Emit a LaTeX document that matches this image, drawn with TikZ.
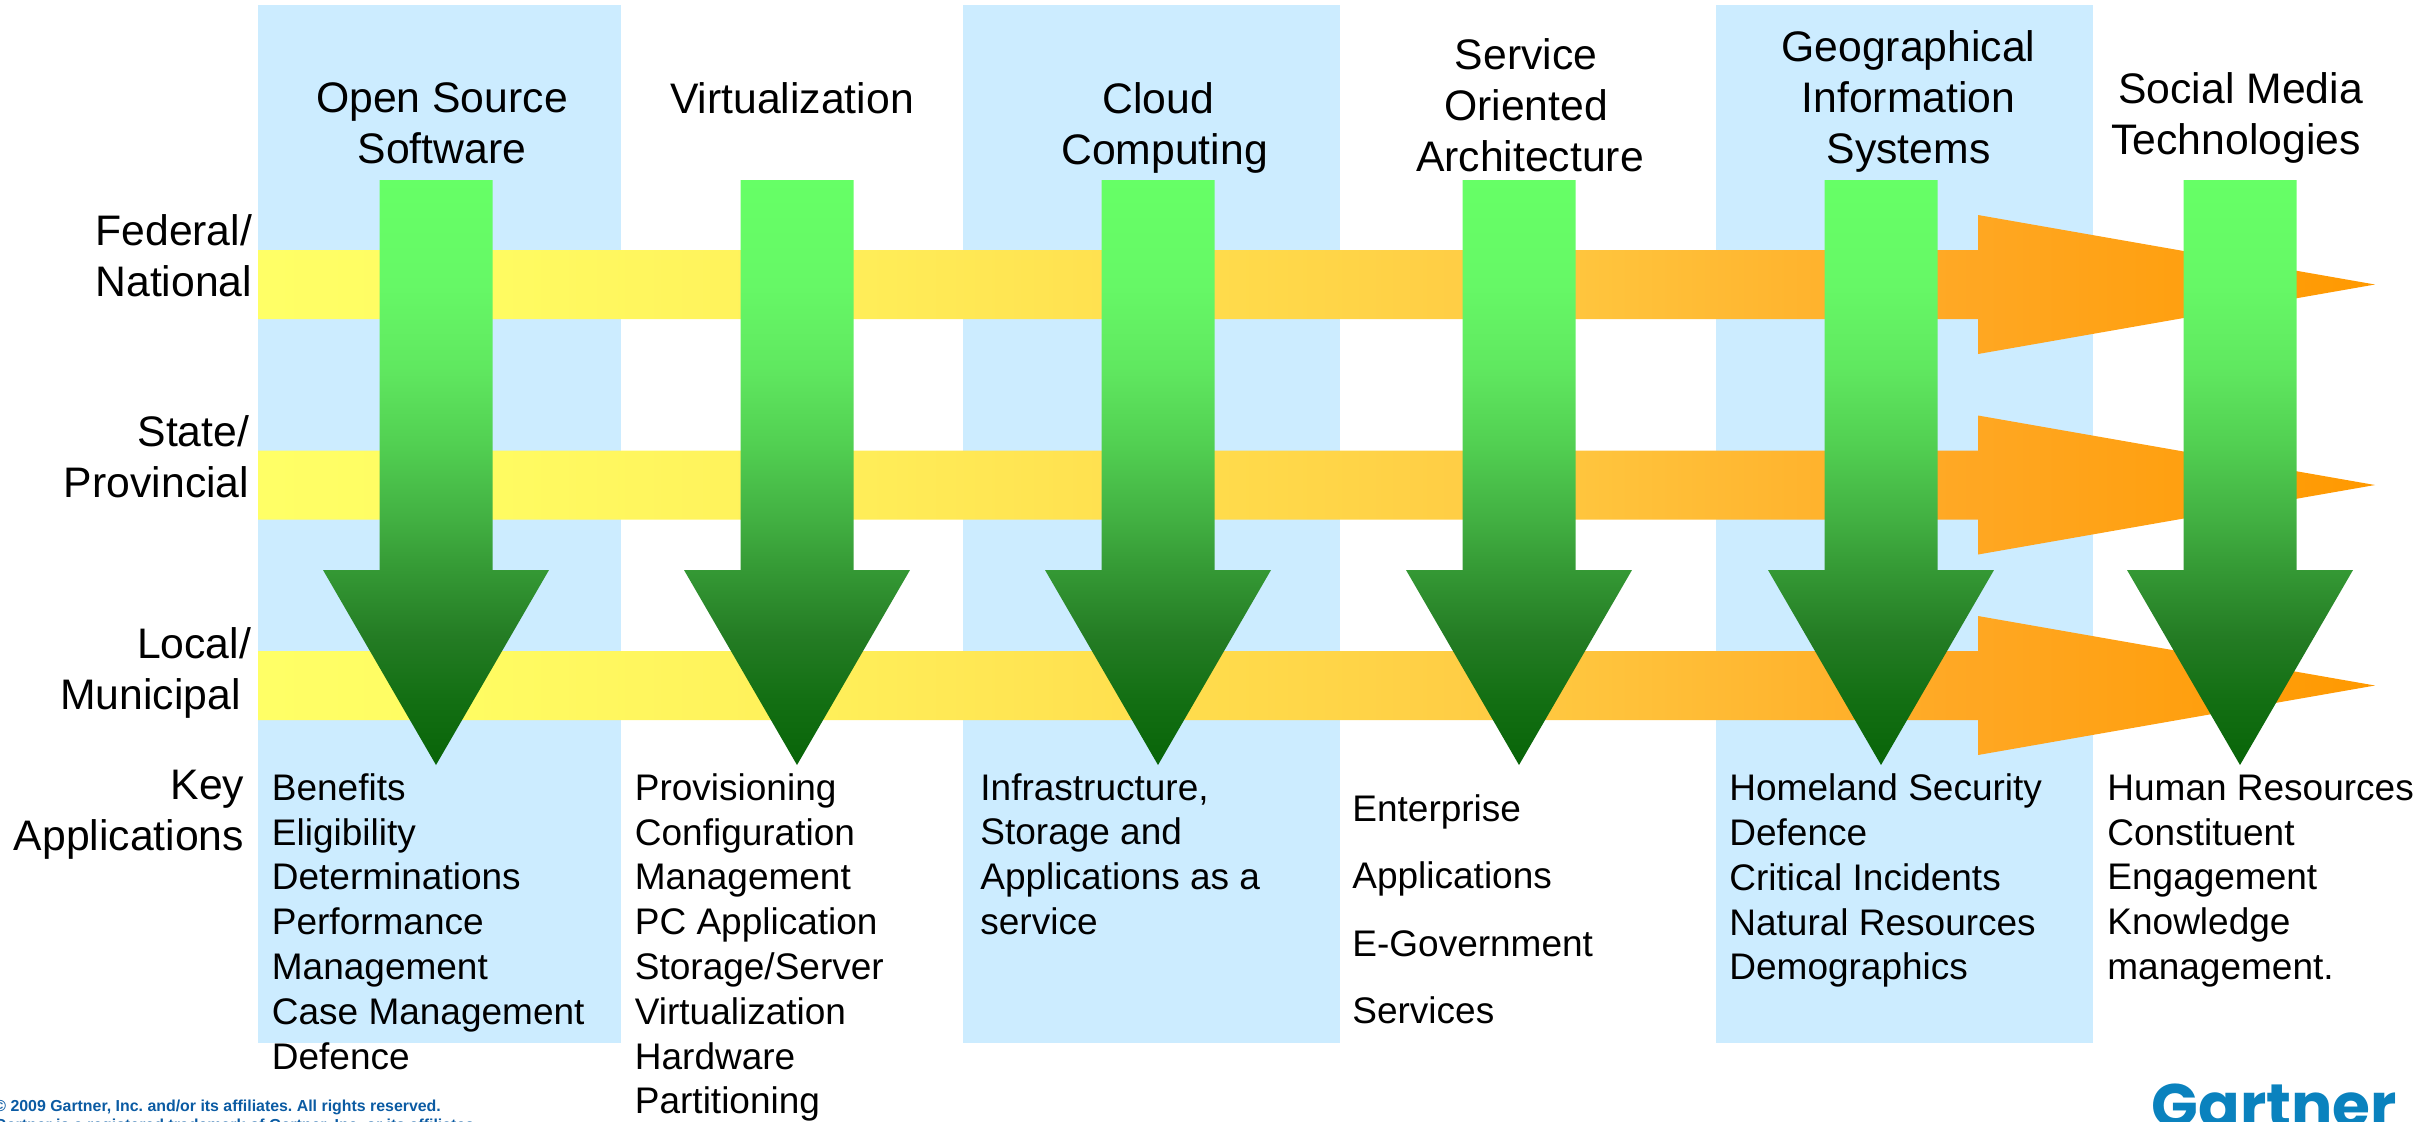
\documentclass[tikz,border=0pt]{standalone}
\usepackage{fontspec}
\setmainfont{Liberation Sans}
\newfontfamily\logofont{Poppins}
\definecolor{panelblue}{HTML}{CCECFF}
\definecolor{footblue}{HTML}{0B5BA3}
\definecolor{logoblue}{HTML}{0A82BE}
\definecolor{ga}{HTML}{66FF66}\definecolor{gb}{HTML}{66F866}\definecolor{gc}{HTML}{60E860}
\definecolor{gd}{HTML}{52D052}\definecolor{ge}{HTML}{42B042}\definecolor{gf}{HTML}{349834}
\definecolor{gg}{HTML}{247C24}\definecolor{gh}{HTML}{147014}\definecolor{gi}{HTML}{086408}
\definecolor{oa}{HTML}{FFFF66}\definecolor{ob}{HTML}{FFFC62}\definecolor{oc}{HTML}{FFF05A}
\definecolor{od}{HTML}{FFD648}\definecolor{oe}{HTML}{FFCC44}\definecolor{of}{HTML}{FFB42E}
\definecolor{og}{HTML}{FFA824}\definecolor{oh}{HTML}{FF9900}
% 25bp..75bp is fitted to the shape's bounding box; t from top: 75-50t
\pgfdeclareverticalshading{greenfall}{100bp}{color(0bp)=(gi); color(25bp)=(gi); color(31bp)=(gh); color(36bp)=(gg); color(41.5bp)=(gf); color(46bp)=(ge); color(52.5bp)=(gd); color(59bp)=(gc); color(66bp)=(gb); color(75bp)=(ga); color(100bp)=(ga)}
\pgfdeclarehorizontalshading{levelflow}{100bp}{color(0bp)=(oa); color(25bp)=(oa); color(30bp)=(ob); color(38bp)=(oc); color(50bp)=(od); color(54bp)=(oe); color(61.5bp)=(of); color(65bp)=(og); color(75bp)=(oh); color(100bp)=(oh)}
\tikzset{
  x=0.5pt,y=-0.5pt,
  panelbox/.style={fill=panelblue,draw=none},
  headtext/.style={inner sep=0pt,anchor=north,align=center,font=\fontsize{21.35}{25.5}\selectfont},
  rowtext/.style={inner sep=0pt,anchor=north east,align=right,font=\fontsize{21.35}{25.5}\selectfont},
  bodytext/.style={inner sep=0pt,anchor=north west,align=left,font=\fontsize{18.5}{22.4}\selectfont},
  widetext/.style={inner sep=0pt,anchor=north west,align=left,font=\fontsize{18.5}{33.7}\selectfont},
  foottext/.style={inner sep=0pt,anchor=north west,align=left,text=footblue,font=\fontsize{7.95}{9.25}\selectfont\bfseries\frenchspacing},
}
\begin{document}
\begin{tikzpicture}
\useasboundingbox (0,0) rectangle (2430,1121);
% panels
\fill[panelbox] (258,5) rectangle (621,1043);
\fill[panelbox] (963,5) rectangle (1340,1043);
\fill[panelbox] (1716,5) rectangle (2093,1043);
% level arrows
\foreach \c in {284.5,485,685.5}{
  \shade[shading=levelflow]
    (258,\c-34.5) -- (1978,\c-34.5) -- (1978,\c-69.5) -- (2375,\c) -- (1978,\c+69.5) -- (1978,\c+34.5) -- (258,\c+34.5) -- cycle;
}
% technology arrows
\foreach \c in {436,797,1158,1519,1881,2240}{
  \shade[shading=greenfall]
    (\c-56.5,180) -- (\c+56.5,180) -- (\c+56.5,570) -- (\c+113,570) -- (\c,765) -- (\c-113,570) -- (\c-56.5,570) -- cycle;
}
% column titles
\node[headtext] (h1) at (442,82) {Open Source\\Software};
\node[headtext] (h2) at (792,82) {Virtualization};
\node[headtext] (h3) at (1158,82) {Cloud\\\hspace*{6.6pt}Computing};
\node[headtext] (h4) at (1526,38) {Service\\Oriented\\\hspace*{4pt}Architecture};
\node[headtext] (h5) at (1908.5,30) {Geographical\\Information\\Systems};
\node[headtext] (h6) at (2236,72) {\hspace*{4.6pt}Social Media\\Technologies};
% rows
\node[rowtext] (r1) at (252.5,214) {Federal/\\National};
\node[rowtext] (r2) at (249.5,415) {State/\\Provincial};
\node[rowtext] (r3) at (251.5,627) {Local/\\Municipal\hspace*{5.25pt}};
\node[rowtext] (r4) at (244.5,770) {Key\\Applications};
% applications
\node[bodytext] (b1) at (271.5,773) {Benefits\\Eligibility\\Determinations\\Performance\\Management\\Case Management\\Defence};
\node[bodytext] (b2) at (634.5,773) {Provisioning\\Configuration\\Management\\PC Application\\Storage/Server\\Virtualization\\Hardware\\Partitioning};
\node[bodytext] (b3) at (980,773) {Infrastructure,\\Storage and\\Applications as a\\service};
\node[widetext] (b4) at (1352,794) {Enterprise\\Applications\\E-Government\\Services};
\node[bodytext] (b5) at (1729,773.5) {Homeland Security\\Defence\\Critical Incidents\\Natural Resources\\Demographics};
\node[bodytext] (b6) at (2107,774.5) {Human Resources\\Constituent\\Engagement\\Knowledge\\management.};
% footer
\node[foottext] (f1) at (-6,1100) {© 2009 Gartner, Inc. and/or its affiliates. All rights reserved.\\Gartner is a registered trademark of Gartner, Inc. or its affiliates.};
\node[inner sep=0pt,anchor=north west,text=logoblue,font=\fontsize{30.7}{31}\logofont\bfseries] (logo) at (2151.5,1083) {Gartner};
\end{tikzpicture}
\end{document}
